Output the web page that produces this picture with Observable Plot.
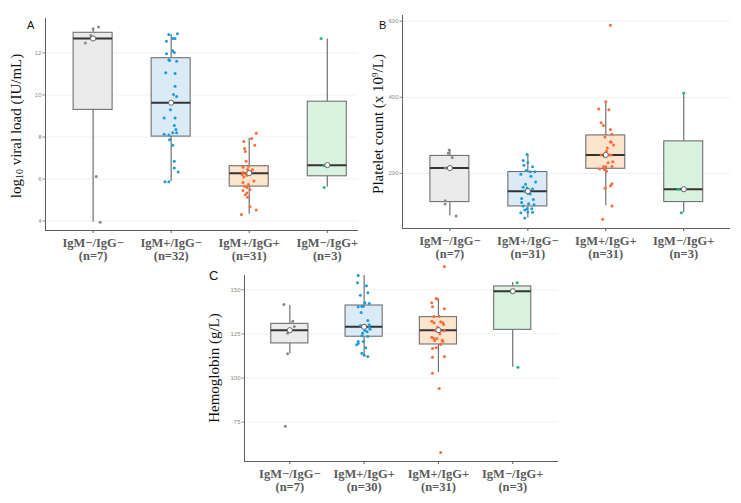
<!DOCTYPE html>
<html><head><meta charset="utf-8">
<script src="https://cdn.jsdelivr.net/npm/d3@7"></script>
<script src="https://cdn.jsdelivr.net/npm/@observablehq/plot@0.6"></script>
<style>
body{margin:0;background:#fff;}
#wrap{position:relative;width:741px;height:503px;overflow:hidden;background:#fff;}
.ytitle{position:absolute;font-family:"Liberation Serif","Times New Roman",serif;font-size:15px;color:#111;white-space:nowrap;transform:translate(-50%,-50%) rotate(-90deg);line-height:1;}
.ytitle sub{font-size:10px;vertical-align:-2px;}
.ytitle sup{font-size:9px;vertical-align:5px;line-height:0;}
.letter{position:absolute;font-family:"Liberation Sans",Arial,sans-serif;color:#111;line-height:1;}
</style></head><body><div id="wrap"></div>
<script>
// ---------- categories ----------
const catsA = ["IgM−/IgG−", "IgM+/IgG−", "IgM+/IgG+", "IgM−/IgG+"];
const nA = [7, 32, 31, 3];
const catsB = ["IgM−/IgG−", "IgM+/IgG−", "IgM+/IgG+", "IgM−/IgG+"];
const nB = [7, 31, 31, 3];
const catsC = ["IgM−/IgG−", "IgM+/IgG+", "IgM+/IgG+", "IgM−/IgG+"];
const nC = [7, 30, 31, 3];

// ---------- panel A: log10 viral load ----------
const aGray = [13.23, 13.15, 12.83, 12.47, 12.74, 6.12, 3.94];
const aGrayJit = [0.07, 0, -0.03, -0.10, -0.01, 0.04, 0.09];
const aBlue = [12.88,12.91,12.56,12.69,12.69,11.96,12.10,12.02,11.68,11.64,11.60,11.06,11.02,10.42,10.02,9.93,9.30,8.91,8.91,8.55,8.36,8.13,8.09,8.20,8.20,7.87,7.61,6.85,6.53,6.34,5.87,5.87];
const aBlueJit = [-0.03,0.08,-0.06,0.02,0.05,-0.06,0.02,0.04,-0.03,-0.02,0.07,-0.07,0.05,0.05,0.03,0.07,-0.01,-0.09,0.05,0.04,0.06,-0.09,-0.03,0.02,0.07,-0.02,0.02,0.04,0.04,0.09,-0.08,-0.03];
const aOrange = [8.18,7.93,7.79,7.61,7.45,7.31,6.85,6.56,6.61,6.44,6.34,6.31,6.26,6.21,6.18,6.10,5.91,5.83,5.74,5.66,5.60,5.50,5.45,5.34,5.25,5.13,4.68,4.31,4.53,6.30,6.45];
const aOrangeJit = [0.09,0.03,-0.07,0.07,-0.06,-0.05,-0.04,-0.08,-0.01,0.04,0.02,-0.08,-0.04,-0.09,-0.03,-0.07,0.06,-0.08,-0.01,-0.06,-0.03,0.01,-0.08,-0.03,-0.05,-0.02,0.01,-0.10,0.09,0.01,-0.02];
const aGreen = [12.69, 6.64, 5.60];
const aGreenJit = [-0.08, -0.04, -0.04];
const aQ1 = [9.29, 8.02, 5.64, 6.13];
const aMed = [12.69, 9.63, 6.28, 6.66];
const aQ3 = [12.96, 11.75, 6.61, 9.68];
const aLo = [3.94, 5.88, 4.32, 5.61];
const aHi = [13.15, 12.88, 7.93, 12.66];
const aTicks = [4, 6, 8, 10, 12];

// ---------- panel B: platelet count ----------
const bGray = [261.5, 252.9, 241.7, 213.8, 127.9, 119.3, 88.0];
const bGrayJit = [-0.01, -0.02, 0.03, -0.06, -0.06, -0.06, 0.08];
const bBlue = [249.5,233.9,228.6,221.6,217.2,207.8,204.2,204.2,197.4,192.2,177.3,171.4,163.5,161.7,159.1,153.1,147.9,133.9,131.3,123.4,120.0,117.5,114.1,107.0,107.0,103.6,96.6,98.4,97.4,82.8,146.0];
const bBlueJit = [-0.01,-0.06,0,-0.05,0.06,-0.02,0.03,0.09,-0.09,0.04,0.10,-0.03,-0.06,-0.01,0.06,-0.04,0,-0.08,0.07,-0.08,0.01,0.08,-0.06,-0.01,0.05,-0.04,-0.09,0,0.06,-0.04,0.03];
const bOrange = [589.6,388.3,369.3,367.4,332.8,325.8,315.4,303.1,295.3,283.3,281.5,274.5,266.7,258.9,248.4,248.4,248.4,245.0,230.2,227.6,218.2,217.2,218.2,211.2,210.4,205.2,172.9,167.7,160.9,114.4,79.5];
const bOrangeJit = [0.06,0,-0.09,0.04,-0.06,-0.03,0.06,0.08,-0.01,0.06,0.07,0.10,0.02,0.01,-0.06,0.04,0.07,-0.02,0.09,0.03,-0.03,0,0.08,-0.08,-0.02,0.01,0.08,0.06,-0.01,0.08,-0.04];
const bGreen = [411.0, 158.3, 96.5];
const bGreenJit = [0, -0.07, -0.03];
const bQ1 = [124.5, 113.0, 212.0, 124.5];
const bMed = [213.8, 153.1, 248.4, 158.3];
const bQ3 = [245.8, 203.4, 299.7, 284.1];
const bLo = [88.0, 82.8, 114.9, 96.5];
const bHi = [263.0, 249.5, 388.3, 411.0];
const bTicks = [200, 400, 600];

// ---------- panel C: hemoglobin ----------
const cGray = [141.7, 132.2, 129.2, 125.4, 127.0, 113.7, 72.7];
const cGrayJit = [-0.08, 0.04, 0.06, -0.03, 0, -0.03, -0.06];
const cBlue = [158.1,154.0,152.3,148.3,146.9,142.6,142.2,140.4,140.5,140.7,137.1,132.6,130.2,129.8,128.8,128.8,127.7,126.9,126.2,123.9,123.5,120.7,120.7,119.6,118.8,117.1,114.1,112.2,112.9,125.4];
const cBlueJit = [-0.08,-0.09,0.03,0.05,-0.05,0.01,0.07,-0.08,-0.03,-0.01,-0.04,0.05,0.07,-0.05,0.01,0.07,0.08,0.01,0.04,-0.03,0.05,-0.08,-0.01,-0.08,-0.10,0.02,-0.03,0.05,0,-0.02];
const cOrange = [145.1,144.7,142.6,140.4,139.2,134.9,135.0,132.2,131.3,131.9,131.3,130.3,128.8,126.9,126.8,125.1,123.1,122.4,122.4,121.3,121.4,120.7,119.0,116.7,117.1,111.8,112.2,102.7,94.1,57.8,163.2];
const cOrangeJit = [-0.03,-0.01,-0.09,-0.08,0.08,-0.06,0.01,-0.09,-0.06,0.03,0.06,0.07,-0.01,-0.04,0.08,0.02,-0.09,-0.06,-0.02,-0.05,0.05,0.06,0.03,-0.08,-0.03,-0.08,0.08,-0.08,0.01,0.03,0.08];
const cGreen = [154.0, 149.2, 106.1];
const cGreenJit = [0.06, 0, 0.07];
const cQ1 = [119.6, 123.4, 119.0, 127.3];
const cMed = [127.1, 129.0, 127.1, 149.2];
const cQ3 = [130.7, 141.1, 134.5, 151.9];
const cLo = [113.7, 112.2, 103.1, 106.1];
const cHi = [141.1, 158.1, 144.7, 154.1];
const cTicks = [75, 100, 125, 150];

// ---------- styles ----------
const boxFill = ["#ebebeb", "#dbeaf7", "#fde4cc", "#d9f2e0"];
const dotFill = ["#8a8a8a", "#1e9ad6", "#fc6a39", "#19b978"];

const wrap = document.getElementById("wrap");

function panel(cfg) {
  const {cats, ns, groups, jit, q1, med, q3, lo, hi, xDomain, yDomain, yTicks,
         left, top, width, height, mt, mr, mb, ml} = cfg;
  const pts = groups.flatMap((vals, g) => vals.map((v, k) => ({g, x: g + jit[g][k], y: v})));
  const stats = cats.map((c, i) => ({i, q1: q1[i], med: med[i], q3: q3[i], lo: lo[i], hi: hi[i]}));
  const hw = 0.25;
  const svg = Plot.plot({
    width, height,
    marginTop: mt, marginRight: mr, marginBottom: mb, marginLeft: ml,
    x: {type: "linear", domain: xDomain, axis: null},
    y: {type: "linear", domain: yDomain, axis: null},
    color: {type: "identity"},
    style: {background: "transparent", overflow: "visible"},
    marks: [
      Plot.gridY(yTicks, {stroke: "#ececec", strokeOpacity: 1, strokeWidth: 0.8}),
      Plot.ruleX(stats, {x: "i", y1: "q3", y2: "hi", stroke: "#707070", strokeWidth: 1.2}),
      Plot.ruleX(stats, {x: "i", y1: "lo", y2: "q1", stroke: "#707070", strokeWidth: 1.2}),
      Plot.rect(stats, {x1: d => d.i - hw, x2: d => d.i + hw, y1: "q1", y2: "q3",
        fill: d => boxFill[d.i], stroke: "#707070", strokeWidth: 1.1}),
      Plot.ruleY(stats, {y: "med", x1: d => d.i - hw, x2: d => d.i + hw, stroke: "#333", strokeWidth: 2}),
      Plot.dot(pts, {x: "x", y: "y", r: 1.5, fill: d => dotFill[d.g], stroke: null}),
      Plot.dot(stats, {x: "i", y: "med", r: 2.6, fill: "white", stroke: "#555", strokeWidth: 0.9}),
      Plot.ruleX([xDomain[0]], {stroke: "#606060", strokeWidth: 1}),
      Plot.ruleY([yDomain[0]], {stroke: "#606060", strokeWidth: 1}),
      Plot.axisY(yTicks, {tickSize: 2.5, tickPadding: 1.5, fontSize: 6, color: "#8a8a8a",
        fontFamily: "Liberation Sans, Arial, sans-serif", label: null}),
      Plot.axisX([0, 1, 2, 3], {tickSize: 3, tickPadding: 3.5, fontSize: 12.5, fontWeight: "bold",
        fontFamily: "Liberation Serif, Times New Roman, serif", color: "#5a5a5a", lineHeight: 1.07,
        tickFormat: i => cats[i] + "\n(n=" + ns[i] + ")", label: null})
    ]
  });
  svg.style.position = "absolute";
  svg.style.left = left + "px";
  svg.style.top = top + "px";
  wrap.appendChild(svg);
}

panel({cats: catsA, ns: nA, groups: [aGray, aBlue, aOrange, aGreen], jit: [aGrayJit, aBlueJit, aOrangeJit, aGreenJit],
  q1: aQ1, med: aMed, q3: aQ3, lo: aLo, hi: aHi, xDomain: [-0.61, 3.40], yDomain: [3.55, 13.64], yTicks: aTicks,
  left: 0, top: 0, width: 370, height: 280, mt: 18, mr: 12, mb: 50, ml: 45});

panel({cats: catsB, ns: nB, groups: [bGray, bBlue, bOrange, bGreen], jit: [bGrayJit, bBlueJit, bOrangeJit, bGreenJit],
  q1: bQ1, med: bMed, q3: bQ3, lo: bLo, hi: bHi, xDomain: [-0.608, 3.60], yDomain: [55, 615], yTicks: bTicks,
  left: 370, top: 0, width: 371, height: 280, mt: 15, mr: 11, mb: 52, ml: 32});

panel({cats: catsC, ns: nC, groups: [cGray, cBlue, cOrange, cGreen], jit: [cGrayJit, cBlueJit, cOrangeJit, cGreenJit],
  q1: cQ1, med: cMed, q3: cQ3, lo: cLo, hi: cHi, xDomain: [-0.61, 3.616], yDomain: [52.7, 158.1], yTicks: cTicks,
  left: 200, top: 258, width: 370, height: 245, mt: 17, mr: 12, mb: 42, ml: 44});

// ---------- titles and panel letters ----------
function addTitle(html, x, y) {
  const d = document.createElement("div");
  d.className = "ytitle";
  d.innerHTML = html;
  d.style.left = x + "px";
  d.style.top = y + "px";
  wrap.appendChild(d);
}
addTitle("log<sub>10</sub> viral load (IU/mL)", 17, 126);
addTitle("Platelet count (x 10<sup>9</sup>/L)", 378, 124);
addTitle("Hemoglobin (g/L)", 214, 368);

function addLetter(t, x, y, size) {
  const d = document.createElement("div");
  d.className = "letter";
  d.textContent = t;
  d.style.left = x + "px";
  d.style.top = y + "px";
  d.style.fontSize = size + "px";
  wrap.appendChild(d);
}
addLetter("A", 27, 20, 11);
addLetter("B", 379, 20, 11);
addLetter("C", 209, 269, 13);
</script></body></html>
